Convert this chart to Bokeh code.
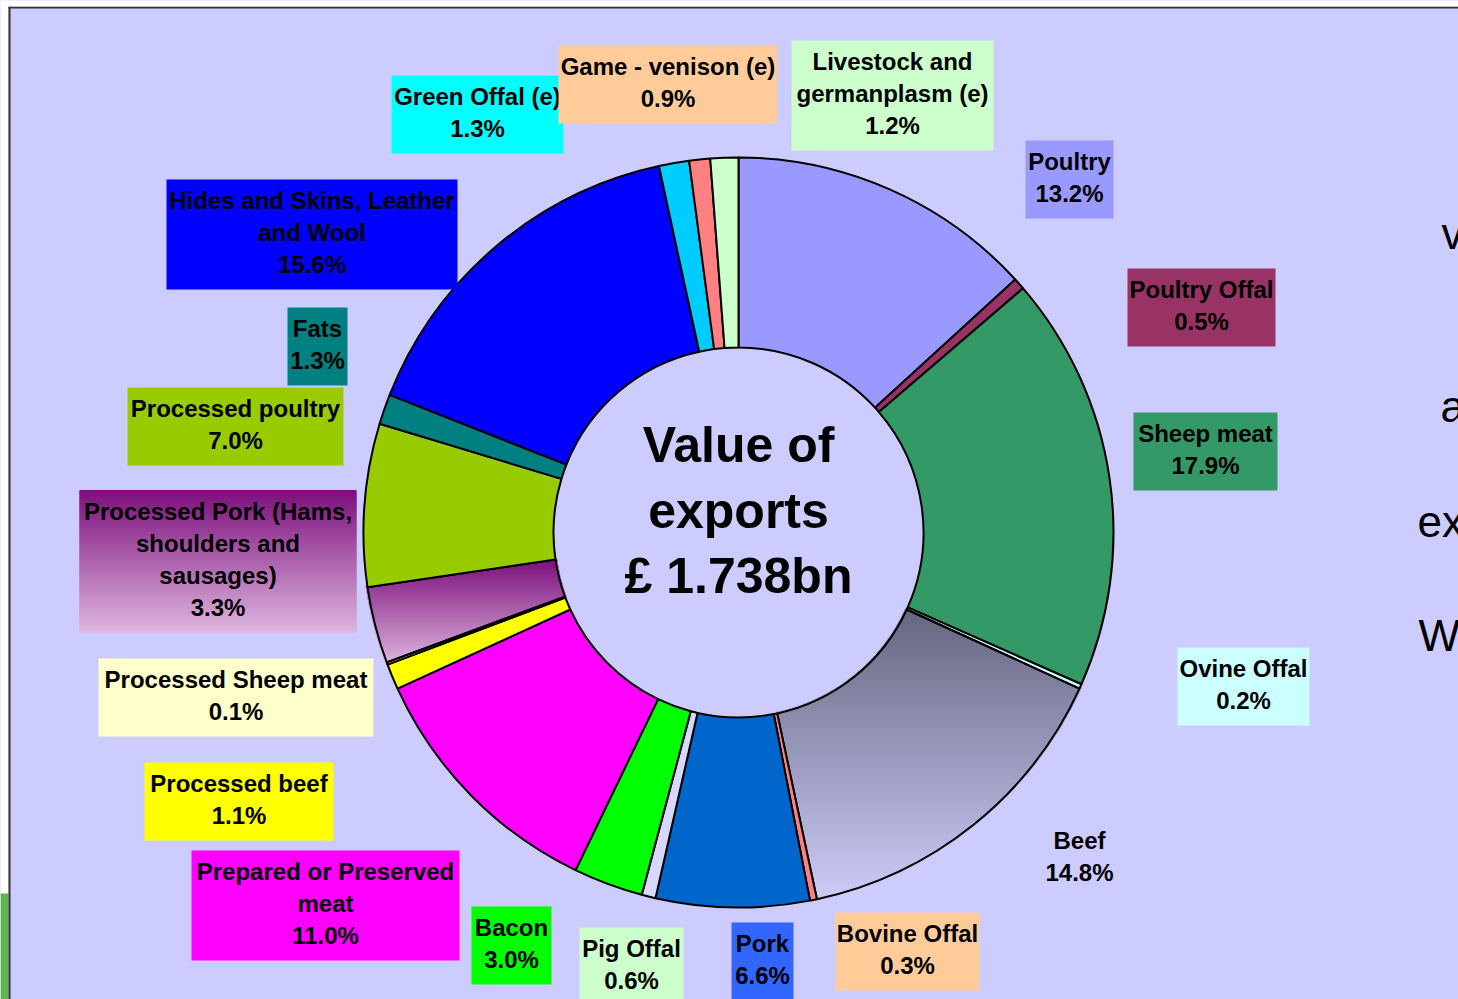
import numpy as np
from bokeh.plotting import figure
from bokeh.models import Range1d
from bokeh.embed import file_html
from bokeh.resources import INLINE
from bokeh.core.properties import value

# ---------------- data ----------------
categories = ["Poultry", "Poultry Offal", "Sheep meat", "Ovine Offal", "Beef",
              "Bovine Offal", "Pork", "Pig Offal", "Bacon",
              "Prepared or Preserved meat", "Processed beef", "Processed Sheep meat",
              "Processed Pork (Hams, shoulders and sausages)", "Processed poultry",
              "Fats", "Hides and Skins, Leather and Wool", "Green Offal (e)",
              "Game - venison (e)", "Livestock and germanplasm (e)"]
shares = [13.2, 0.5, 17.9, 0.2, 14.8, 0.3, 6.6, 0.6, 3.0, 11.0, 1.1, 0.1, 3.3,
          7.0, 1.3, 15.6, 1.3, 0.9, 1.2]
label_lines = [["Poultry"], ["Poultry Offal"], ["Sheep meat"], ["Ovine Offal"], ["Beef"],
               ["Bovine Offal"], ["Pork"], ["Pig Offal"], ["Bacon"],
               ["Prepared or Preserved", "meat"], ["Processed beef"],
               ["Processed Sheep meat"],
               ["Processed Pork (Hams,", "shoulders and", "sausages)"],
               ["Processed poultry"], ["Fats"], ["Hides and Skins, Leather", "and Wool"],
               ["Green Offal (e)"], ["Game - venison (e)"],
               ["Livestock and", "germanplasm (e)"]]
center_lines = ["Value of", "exports", "£ 1.738bn"]
side_fragments = ["v", "a", "ex", "W"]

# ---------------- styles / layout ----------------
slice_colors = ["#9999FF", "#993366", "#339966", "#CCFFFF", None, "#FF8080", "#0066CC",
                "#D8D8FF", "#00FF00", "#FF00FF", "#FFFF00", "#FFFFCC", None, "#99CC00",
                "#008080", "#0000FF", "#00CCFF", "#FF8080", "#CCFFCC"]
box_colors = ["#9999FF", "#993366", "#339966", "#CCFFFF", None, "#FFCC99", "#3366FF",
              "#CCFFCC", "#00FF00", "#FF00FF", "#FFFF00", "#FFFFCC", "grad", "#99CC00",
              "#008080", "#0000FF", "#00FFFF", "#FFCC99", "#CCFFCC"]
# (left, top, right) in page pixels; Beef has no box (left/right give centre)
box_pos = [(1025, 140, 1113), (1127, 268, 1275), (1133, 412, 1277), (1177, 647, 1309),
           (1040, 819, 1118), (835, 912, 979), (731, 922, 793), (579, 927, 683),
           (471, 906, 551), (191, 850, 459), (144, 762, 333), (98, 658, 373),
           (79, 490, 356), (127, 387, 343), (287, 307, 347), (166, 179, 457),
           (391, 75, 563), (558, 45, 777), (791, 40, 993)]
draw_order = [i for i in range(len(categories)) if i != 17] + [17]

gradients = {4: ((102, 102, 128), (205, 205, 250)),
             12: ((125, 15, 125), (222, 182, 222))}

W, H = 1458, 999
def Y(sy):  # page y -> data y
    return H - sy

CX, CY = 738, Y(532)
R_OUT, R_IN = 375, 185
BG = "#CCCCFF"

p = figure(width=W, height=H, output_backend="svg", toolbar_location=None,
           x_range=Range1d(0, W), y_range=Range1d(0, H),
           x_axis_location=None, y_axis_location=None, min_border=0,
           background_fill_color=BG, border_fill_color=BG)
p.grid.visible = False
p.outline_line_color = None

# page strip left of the slide frame
p.quad(left=[0], right=[8], top=[H], bottom=[0], fill_color="white", line_color=None)
p.quad(left=[0], right=[8], top=[Y(893)], bottom=[0], fill_color="#5DB552", line_color=None)

# ---------------- gradient slices (raster under outlines) ----------------
tot = float(sum(shares))
cum = np.concatenate([[0.0], np.cumsum(shares)]) / tot
x0, y0 = CX - R_OUT - 3, CY - R_OUT - 3
n = 2 * R_OUT + 6
xs = x0 + np.arange(n) + 0.5
ys = y0 + np.arange(n) + 0.5
XX, YY = np.meshgrid(xs, ys)
dx, dy = XX - CX, YY - CY
rr = np.hypot(dx, dy)
th = np.degrees(np.arctan2(dx, dy)) % 360
rgba = np.zeros((n, n, 4), dtype=np.uint8)
for idx, (c_top, c_bot) in gradients.items():
    a0, a1 = cum[idx] * 360 - 0.3, cum[idx + 1] * 360 + 0.3
    m = (rr >= R_IN - 1.5) & (rr <= R_OUT + 1.5) & (th >= a0) & (th <= a1)
    sy = H - YY
    top, bot = sy[m].min(), sy[m].max()
    t = np.clip((sy - top) / (bot - top), 0, 1)
    for k in range(3):
        ch = c_top[k] + t * (c_bot[k] - c_top[k])
        rgba[..., k] = np.where(m, ch.astype(np.uint8), rgba[..., k])
    rgba[..., 3] = np.where(m, 255, rgba[..., 3])
img = rgba.view(dtype=np.uint32).reshape((n, n))
p.image_rgba(image=[img], x=x0, y=y0, dw=n, dh=n)

# ---------------- donut ----------------
starts = [np.pi / 2 - 2 * np.pi * cum[i + 1] for i in range(len(shares))]
ends = [np.pi / 2 - 2 * np.pi * cum[i] for i in range(len(shares))]
fills = [c if c is not None else BG for c in slice_colors]
alphas = [0.0 if c is None else 1.0 for c in slice_colors]
p.annular_wedge(x=[CX] * len(shares), y=[CY] * len(shares), inner_radius=R_IN,
                outer_radius=R_OUT, start_angle=starts, end_angle=ends,
                fill_color=fills, fill_alpha=alphas, line_color="black", line_width=2)

# ---------------- labels ----------------
FONT = value("Liberation Sans")
LH = 32
for i in draw_order:
    left, top, right = box_pos[i]
    lines = label_lines[i] + [f"{shares[i]:.1f}%"]
    h = LH * len(lines) + 14
    col = box_colors[i]
    if col == "grad":
        c_top, c_bot = gradients[i]
        rows = np.arange(h)
        t = rows / (h - 1)
        cols = ["#%02x%02x%02x" % tuple(int(c_top[k] + tt * (c_bot[k] - c_top[k])) for k in range(3))
                for tt in t]
        p.quad(left=[left] * h, right=[right] * h, top=[Y(top + r) + 0.6 for r in rows],
               bottom=[Y(top + r + 1) - 0.6 for r in rows], fill_color=cols, line_color=None)
    elif col is not None:
        p.quad(left=[left], right=[right], top=[Y(top)], bottom=[Y(top + h)],
               fill_color=col, line_color=None)
    cx = (left + right) / 2
    p.text(x=[cx] * len(lines), y=[Y(top + 21 + LH * k) for k in range(len(lines))],
           text=lines, text_align="center", text_baseline="alphabetic",
           text_font=FONT, text_font_style="bold", text_font_size="24px",
           text_color="black")

# centre text
p.text(x=[738] * 3, y=[Y(444), Y(510), Y(575)], text=center_lines,
       text_align="center", text_baseline="alphabetic", text_font=FONT,
       text_font_style="bold", text_font_size="50px", text_color="black")

# clipped fragments of a neighbouring text box on the right
p.text(x=[1441, 1440, 1417, 1418], y=[Y(233), Y(406), Y(521), Y(635)],
       text=side_fragments, text_align="left", text_baseline="alphabetic",
       text_font=FONT, text_font_size="44px", text_color="black")

# frame lines (top and left)
p.line(x=[9, 9], y=[0, Y(6)], line_color="#333333", line_width=2)
p.line(x=[8, W], y=[Y(7), Y(7)], line_color="#333333", line_width=2)
p.quad(left=[0], right=[W], top=[H], bottom=[Y(6)], fill_color="white", line_color=None)

open("out.html", "w").write(file_html(p, INLINE))
